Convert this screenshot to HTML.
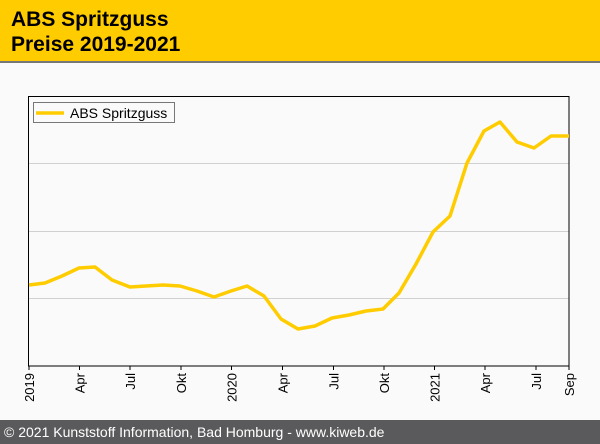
<!DOCTYPE html>
<html><head><meta charset="utf-8"><style>
body{margin:0;width:600px;height:444px;overflow:hidden;background:#fafafa;font-family:"Liberation Sans",sans-serif;}
</style></head><body>
<svg width="600" height="444" xmlns="http://www.w3.org/2000/svg" style="position:absolute;left:0;top:0">
<rect x="0" y="0" width="600" height="444" fill="#fafafa"/>
<rect x="0" y="0" width="600" height="61" fill="#ffcc00"/>
<rect x="0" y="61" width="600" height="2" fill="#777"/>
<text x="11" y="26" font-size="21" font-weight="bold" fill="#000">ABS Spritzguss</text>
<text x="11" y="51" font-size="21" font-weight="bold" fill="#000">Preise 2019-2021</text>
<g stroke="#d0d0d0" stroke-width="1">
<line x1="29" y1="163.5" x2="569" y2="163.5"/>
<line x1="29" y1="231.5" x2="569" y2="231.5"/>
<line x1="29" y1="298.5" x2="569" y2="298.5"/>
</g>
<rect x="28.5" y="96.5" width="540.5" height="269.5" fill="none" stroke="#000" stroke-width="1"/>
<g stroke="#000" stroke-width="1">
<line x1="29" y1="366" x2="29" y2="370"/><line x1="79.5" y1="366" x2="79.5" y2="370"/><line x1="130" y1="366" x2="130" y2="370"/><line x1="181" y1="366" x2="181" y2="370"/><line x1="231.5" y1="366" x2="231.5" y2="370"/><line x1="282.5" y1="366" x2="282.5" y2="370"/><line x1="333.5" y1="366" x2="333.5" y2="370"/><line x1="384" y1="366" x2="384" y2="370"/><line x1="434.5" y1="366" x2="434.5" y2="370"/><line x1="485" y1="366" x2="485" y2="370"/><line x1="536" y1="366" x2="536" y2="370"/><line x1="569" y1="366" x2="569" y2="370"/>
</g>
<g font-size="13" fill="#000" text-anchor="end">
<text transform="translate(34,373) rotate(-90)">2019</text>
<text transform="translate(84.5,373) rotate(-90)">Apr</text>
<text transform="translate(135,373) rotate(-90)">Jul</text>
<text transform="translate(186,373) rotate(-90)">Okt</text>
<text transform="translate(236.5,373) rotate(-90)">2020</text>
<text transform="translate(287.5,373) rotate(-90)">Apr</text>
<text transform="translate(338.5,373) rotate(-90)">Jul</text>
<text transform="translate(389,373) rotate(-90)">Okt</text>
<text transform="translate(439.5,373) rotate(-90)">2021</text>
<text transform="translate(490,373) rotate(-90)">Apr</text>
<text transform="translate(541,373) rotate(-90)">Jul</text>
<text transform="translate(574,373) rotate(-90)">Sep</text>
</g>
<polyline fill="none" stroke="#ffcc00" stroke-width="3.5" stroke-linejoin="round" points="29,285 45,283 62,276 79,268 95,267 112,280 130,287 146,286 163,285 180,286 197,291 214,297 231,291 247,286 264,296 281,319 298,329 315,326 332,318 349,315 366,311 383,309 399,293 416,264 433,232 450,216 467,163 484,131 500,122 517,142 534,148 551,136 569,136"/>
<rect x="33.5" y="102.5" width="141" height="20" fill="#fafafa" stroke="#777" stroke-width="1"/>
<line x1="36" y1="113" x2="64" y2="113" stroke="#ffcc00" stroke-width="3.5"/>
<text x="70" y="118" font-size="14" fill="#000">ABS Spritzguss</text>
<rect x="0" y="420" width="600" height="24" fill="#5a5a5c"/>
<text x="4" y="437" font-size="14" fill="#fff">© 2021 Kunststoff Information, Bad Homburg - www.kiweb.de</text>
</svg>
</body></html>
